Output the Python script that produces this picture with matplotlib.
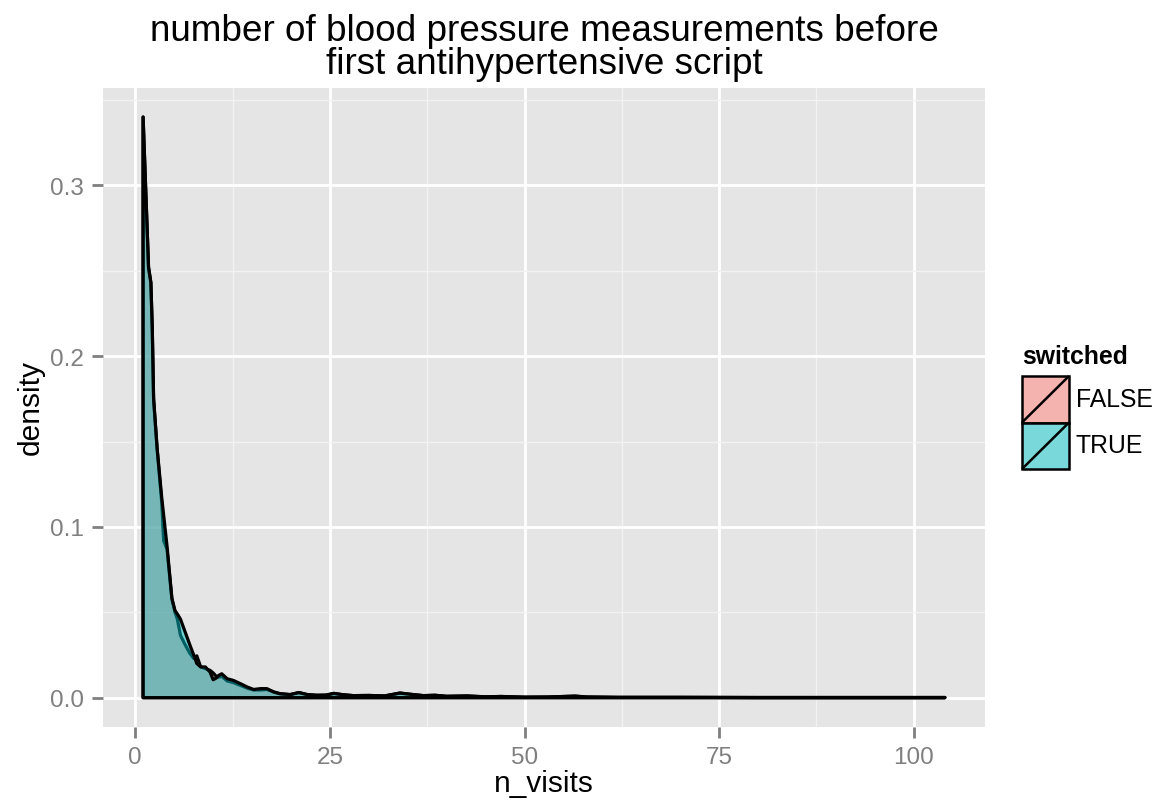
import numpy as np
import matplotlib.pyplot as plt
from matplotlib.colors import to_rgb
from matplotlib.patches import Rectangle

plt.rcParams['font.family'] = ['Liberation Sans', 'DejaVu Sans']

# density estimates (n_visits grid, density per group)
n_visits = [1.0, 1.7, 2.0, 2.18, 2.35, 2.8, 3.4, 3.64, 4.07, 4.7, 5.1, 5.4, 5.8,
            6.4, 7.0, 7.5, 7.9, 8.4, 9.0, 9.6, 10.0, 10.4, 10.7, 11.1, 11.8, 12.6,
            13.5, 14.4, 15.2, 16.1, 16.9, 17.8, 18.6, 19.9, 21.0, 22.1, 23.3, 24.5,
            25.5, 26.7, 28.0, 30.0, 32.0, 34.0, 35.3, 37.0, 38.5, 40.0, 42.6, 45.0,
            47.0, 50.0, 53.0, 56.5, 58.0, 62.0, 70.0, 80.0, 90.0, 100.0, 104.0]

dens_false = [0.340, 0.252, 0.243, 0.216, 0.175, 0.146, 0.114, 0.092, 0.087, 0.058,
              0.050, 0.046, 0.0365, 0.031, 0.026, 0.023, 0.0245, 0.018, 0.017, 0.016,
              0.0145, 0.0125, 0.012, 0.0125, 0.0098, 0.0088, 0.0072, 0.0055, 0.0045,
              0.0045, 0.0048, 0.0033, 0.0023, 0.0018, 0.0030, 0.0018, 0.0014, 0.0015,
              0.0025, 0.0017, 0.0012, 0.0013, 0.0010, 0.0027, 0.0020, 0.0012, 0.0014,
              0.0008, 0.0010, 0.0005, 0.0007, 0.0003, 0.0004, 0.0009, 0.0004, 0.0002,
              0.0002, 0.0001, 0.0001, 0.0001, 0.0001]

dens_true = [0.340, 0.252, 0.243, 0.216, 0.175, 0.146, 0.117, 0.107, 0.089, 0.058,
             0.051, 0.049, 0.046, 0.0385, 0.031, 0.025, 0.020, 0.018, 0.018, 0.015,
             0.0105, 0.0115, 0.013, 0.014, 0.0111, 0.0101, 0.0082, 0.0062, 0.0048,
             0.0053, 0.0053, 0.0033, 0.0023, 0.0018, 0.0030, 0.0018, 0.0014, 0.0015,
             0.0025, 0.0017, 0.0012, 0.0013, 0.0010, 0.0027, 0.0020, 0.0012, 0.0014,
             0.0008, 0.0010, 0.0005, 0.0007, 0.0003, 0.0004, 0.0009, 0.0004, 0.0002,
             0.0002, 0.0001, 0.0001, 0.0001, 0.0001]

groups = ['FALSE', 'TRUE']
group_colors = ['#F8766D', '#00BFC4']
x_ticks = [0, 25, 50, 75, 100]
y_ticks = [0.0, 0.1, 0.2, 0.3]

W, H = 1158, 803
GREY = '#7F7F7F'


def px(x0, y0, w, h):
    # pixel box (top-left origin) -> figure fraction
    return [x0 / W, 1 - (y0 + h) / H, w / W, h / H]


fig = plt.figure(figsize=(W / 100, H / 100), dpi=100)
ax = fig.add_axes(px(103, 89, 882, 638.7))
ax.set_facecolor('#E5E5E5')
for s in ax.spines.values():
    s.set_visible(False)

x = np.array(n_visits)
for dens, col in zip([dens_false, dens_true], group_colors):
    y = np.array(dens)
    ax.fill(np.r_[x[0], x, x[-1]], np.r_[0, y, 0],
            facecolor=(*to_rgb(col), 0.5), edgecolor='black',
            linewidth=2.3, joinstyle='round', zorder=3)

pad_x = (max(n_visits) - min(n_visits)) * 0.05
ax.set_xlim(min(n_visits) - pad_x, max(n_visits) + pad_x)
ymax = max(max(dens_false), max(dens_true))
ax.set_ylim(-ymax * 0.05, ymax * 1.05)

ax.set_xticks(x_ticks)
ax.set_xticks([12.5, 37.5, 62.5, 87.5], minor=True)
ax.set_yticks(y_ticks)
ax.set_yticks([0.05, 0.15, 0.25, 0.35], minor=True)
ax.set_yticklabels([f'{v:.1f}' for v in y_ticks])
ax.grid(which='major', color='white', linewidth=2.0)
ax.grid(which='minor', color='#F2F2F2', linewidth=1.0)
ax.set_axisbelow(True)
ax.tick_params(which='minor', length=0)
ax.tick_params(which='major', length=7.9, width=2.0, color=GREY,
               labelcolor=GREY, labelsize=17.5)
ax.tick_params(axis='x', pad=6.0)
ax.tick_params(axis='y', pad=6)

fig.text(544 / W, 1 - 41 / H, 'number of blood pressure measurements before',
         ha='center', va='baseline', fontsize=26.6)
fig.text(544 / W, 1 - 74 / H, 'first antihypertensive script',
         ha='center', va='baseline', fontsize=26.6)
fig.text(544 / W, 1 - 792 / H, 'n_visits', ha='center', va='baseline',
         fontsize=21.5)
fig.text(31 / W, 1 - 408 / H, 'density', ha='center', va='center',
         rotation=90, fontsize=21.5)

# legend
fig.text(1022 / W, 1 - 364 / H, 'switched', ha='left', va='baseline',
         fontsize=17.8, fontweight='bold')
lax = fig.add_axes(px(1022, 377, 47, 93))
lax.set_xlim(0, 1)
lax.set_ylim(0, 2)
lax.axis('off')
for i, (lab, col) in enumerate(zip(groups, group_colors)):
    y0 = 1 - i
    lax.add_patch(Rectangle((0, y0), 1, 1, facecolor='#F2F2F2', edgecolor='none'))
    lax.add_patch(Rectangle((0, y0), 1, 1, facecolor=(*to_rgb(col), 0.5),
                            edgecolor='black', linewidth=1.8, clip_on=False))
    lax.plot([0, 1], [y0, y0 + 1], color='black', linewidth=1.8,
             solid_capstyle='butt', clip_on=False)
    fig.text(1076 / W, 1 - (400 + 46.5 * i) / H, lab, ha='left', va='center',
             fontsize=17.8)

fig.savefig('out.png', dpi=100)
